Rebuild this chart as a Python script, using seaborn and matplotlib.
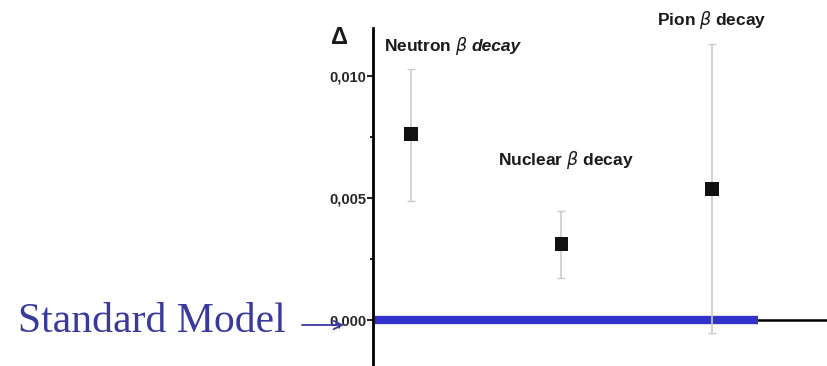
import numpy as np
import pandas as pd
import matplotlib.pyplot as plt
import seaborn as sns

labels = ['Neutron', 'Nuclear', 'Pion']
pos = [1, 2, 3]
delta = [0.00762, 0.00311, 0.00537]
err_up = [0.00267, 0.00136, 0.00594]
err_lo = [0.00274, 0.00139, 0.00590]
sm_x = [0.75, 3.305]
sm_y = [0.0, 0.0]
yticks = [0.0, 0.005, 0.010]
ytick_labels = ['0,000', '0,005', '0,010']

df = pd.DataFrame({'name': labels, 'x': pos, 'delta': delta})

sns.set_style('white')
fig = plt.figure(figsize=(8.27, 3.66), dpi=100)
ax = fig.add_axes([0.451, 0.0, 0.549, 0.9235])

# black zero line, then thick blue standard model line on top
ax.axhline(0, color='black', lw=1.8, zorder=1)
sns.lineplot(x=sm_x, y=sm_y, ax=ax, color='#3333cc', lw=6, zorder=2,
             solid_capstyle='butt')

ax.errorbar(df['x'], df['delta'], yerr=[err_lo, err_up], fmt='none',
            ecolor='#cccccc', elinewidth=1.2, capsize=3, capthick=1, zorder=3)
sns.scatterplot(data=df, x='x', y='delta', ax=ax, marker='s', s=95,
                color='#111111', edgecolor='none', zorder=4)

ax.set_xlim(0.7475, 3.764)
ax.set_ylim(-0.00189, 0.01197)
ax.set_xticks([])
ax.set_yticks(yticks)
ax.set_yticks([0.0025, 0.0075], minor=True)
ax.set_yticklabels(ytick_labels, fontsize=10.5, fontweight='bold',
                   family='Liberation Sans')
ax.tick_params(axis='y', which='major', length=4, width=1.5, direction='out',
               left=True, pad=1)
ax.tick_params(axis='y', which='minor', length=2, width=1.5, direction='out',
               left=True)
ax.set_xlabel('')
ax.set_ylabel('')
for s in ['top', 'right', 'bottom']:
    ax.spines[s].set_visible(False)
ax.spines['left'].set_linewidth(2)
ax.spines['left'].set_color('black')

# annotations
tkw = dict(fontsize=12.5, fontweight='bold', family='Liberation Sans',
           color='#1a1a1a')
fig.text(384/827, 1 - 46/366, r'Neutron $\beta$', ha='left', va='center', **tkw)
fig.text(472/827, 1 - 46/366, 'decay', ha='left', va='center', style='italic', **tkw)
fig.text(566/827, 1 - 160/366, r'Nuclear $\beta$ decay', ha='center', va='center', **tkw)
fig.text(712/827, 1 - 20/366, r'Pion $\beta$ decay', ha='center', va='center', **tkw)
fig.text(339/827, 1 - 38/366, 'Δ', ha='center', va='center', fontsize=17,
         fontweight='bold', family='Liberation Sans', color='#1a1a1a')

fig.text(18/827, 1 - 322/366, 'Standard Model', ha='left', va='center',
         fontsize=30, family='Liberation Serif', color='#3a3a9e')
ax.annotate('', xy=(344/827, 1 - 325/366), xytext=(302/827, 1 - 325/366),
            xycoords='figure fraction', textcoords='figure fraction',
            arrowprops=dict(arrowstyle='->,head_length=0.6,head_width=0.3',
                            color='#3a3a9e', lw=1.3, shrinkA=0, shrinkB=0),
            annotation_clip=False)

fig.savefig('out.png', dpi=100)
